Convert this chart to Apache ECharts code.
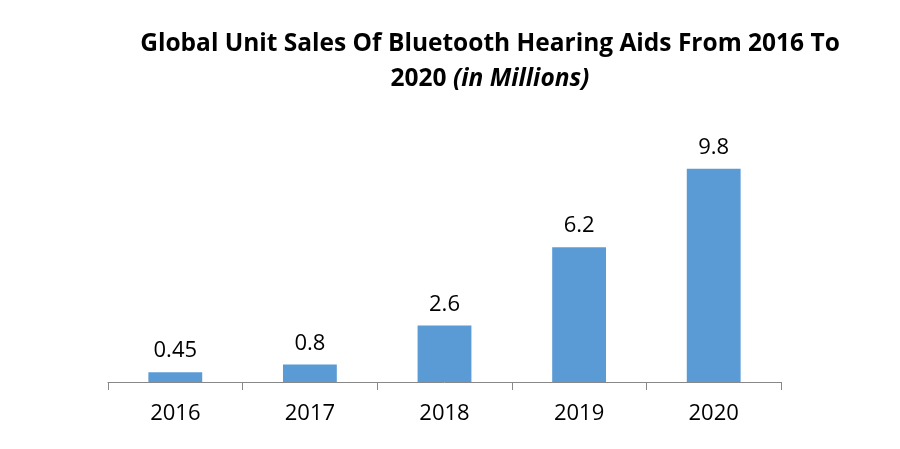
<!DOCTYPE html>
<html><head><meta charset="utf-8">
<script src="https://cdn.jsdelivr.net/npm/echarts@6/dist/echarts.min.js"></script>
<style>html,body{margin:0;padding:0;background:#fff}#c{width:900px;height:449px}</style>
</head><body><div id="c"></div>
<script>
const categories = ['2016','2017','2018','2019','2020'];
const sales = [0.45, 0.8, 2.6, 6.2, 9.8];
const titleLine1 = 'Global Unit Sales Of Bluetooth Hearing Aids From 2016 To';
const titleLine2a = '2020 ';
const titleLine2b = '(in Millions)';

const chart = echarts.init(document.getElementById('c'));
chart.setOption({
  animation: false,
  title: {
    left: 485, top: 22, textAlign: 'center',
    text: '{b|' + titleLine1 + '}\n{b|' + titleLine2a + '}{i|' + titleLine2b + '}',
    textStyle: {
      rich: {
        b: {fontFamily: 'Open Sans', fontWeight: 'bold', fontSize: 24.5, color: '#000', lineHeight: 35},
        i: {fontFamily: 'Open Sans', fontWeight: 'bold', fontStyle: 'italic', fontSize: 24.5, color: '#000', lineHeight: 35}
      }
    }
  },
  grid: {left: 108, right: 119, top: 121, bottom: 67},
  xAxis: {
    type: 'category', data: categories,
    axisLine: {lineStyle: {color: '#888', width: 1}},
    axisTick: {show: true, length: 8, alignWithLabel: false, lineStyle: {color: '#888'}},
    axisLabel: {fontFamily: 'Open Sans', fontSize: 22, color: '#000', margin: 21}
  },
  yAxis: {type: 'value', min: 0, max: 12, show: false, splitLine: {show: false}},
  series: [{
    type: 'bar', data: sales, barWidth: '40%',
    itemStyle: {color: '#5B9BD5'},
    label: {show: true, position: 'top', distance: 10, fontFamily: 'Open Sans', fontSize: 22, color: '#000'}
  }]
});
</script></body></html>
